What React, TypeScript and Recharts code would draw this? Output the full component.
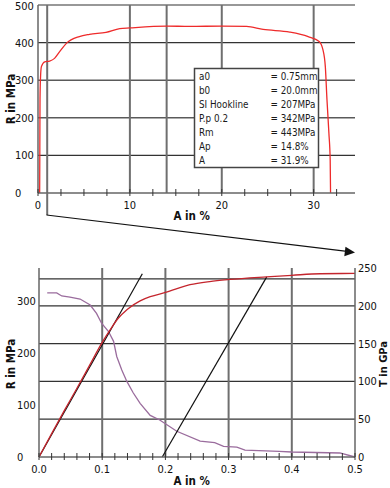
import React from 'react';
import { LineChart, Line, XAxis, YAxis, ReferenceLine } from 'recharts';

const FONT = "'Liberation Sans Narrow', 'DejaVu Sans Condensed', 'Liberation Sans', sans-serif";

// ---------- Top chart (full test) ----------
const topElongation = [0.18, 0.2, 0.22, 0.28, 0.37, 0.73, 1.27, 1.8, 2.36, 3.09, 4.5, 5.6, 7.4, 8.9, 10, 14, 16.5, 20, 22.7, 24.5, 27.4, 29.4, 30.6, 31.0, 31.27, 31.45, 31.66, 31.8, 31.84];
const topStress = [0, 120, 250, 310, 336, 349, 351, 358, 376, 398, 416, 422, 427, 437, 439, 444, 443, 444, 443, 435, 428, 416, 403, 382, 336, 248, 159, 88, 0];
const topXTicks = [0, 2.5, 5, 7.5, 10, 12.5, 15, 17.5, 20, 22.5, 25, 27.5, 30, 32.5];
const topXLabels = [0, 10, 20, 30];
const topYTicks = [0, 100, 200, 300, 400, 500];
const topVGrid = [1, 10, 14, 20, 30];
const topHGridDark = [100, 400, 500];
const topHGridGray = [200, 300];

const boxLabels = ['a0', 'b0', 'SI Hookline', 'P.p 0.2', 'Rm', 'Ap', 'A'];
const boxValues = ['= 0.75mm', '= 20.0mm', '= 207MPa', '= 342MPa', '= 443MPa', '= 14.8%', '= 31.9%'];

// ---------- Bottom chart (zoom 0 - 0.5 %) ----------
const zoomStrain = [0, 0.02, 0.04, 0.06, 0.08, 0.1, 0.113, 0.125, 0.14, 0.16, 0.176, 0.2, 0.239, 0.27, 0.302, 0.36, 0.4, 0.445, 0.5];
const zoomStress = [0, 45, 89, 132, 176, 220, 245, 266, 284, 300, 308, 316, 331, 337, 341, 346, 349, 352, 352.5];
const modulusStrain = [0.013, 0.028, 0.036, 0.049, 0.065, 0.081, 0.091, 0.099, 0.11, 0.118, 0.123, 0.131, 0.139, 0.149, 0.16, 0.176, 0.191, 0.218, 0.255, 0.278, 0.292, 0.313, 0.326, 0.38, 0.4, 0.476, 0.5];
const modulusGPa = [217, 217, 213, 211.5, 209, 201, 190, 177, 166, 153, 133, 115, 100, 85, 71, 55, 49, 34, 21, 19, 14, 13, 9, 7.4, 6.6, 5.3, 0];
const hook1Strain = [0, 0.1635];
const hook1Stress = [0, 352];
const hook2Strain = [0.195, 0.3603];
const hook2Stress = [0, 346];
const zoomXTicks = [0, 0.02, 0.04, 0.06, 0.08, 0.1, 0.12, 0.14, 0.16, 0.18, 0.2, 0.22, 0.24, 0.26, 0.28, 0.3, 0.32, 0.34, 0.36, 0.38, 0.4, 0.42, 0.44, 0.46, 0.48, 0.5];
const zoomXLabels = [0, 0.1, 0.2, 0.3, 0.4, 0.5];
const zoomLeftTicks = [0, 100, 200, 300];
const zoomRightTicks = [0, 50, 100, 150, 200, 250];
const zoomVGrid = [0.1, 0.2, 0.3, 0.4];
const zoomRightGrid = [50, 100, 150, 200];
const zoomLeftGrid = [342];

const zip = (xs: number[], ys: number[], k: string) => xs.map((a, i) => ({ a, [k]: ys[i] }));
const topData = zip(topElongation, topStress, 'r');
const redData = zip(zoomStrain, zoomStress, 'r');
const purpleData = zip(modulusStrain, modulusGPa, 't');
const hook1Data = zip(hook1Strain, hook1Stress, 'r');
const hook2Data = zip(hook2Strain, hook2Stress, 'r');

const AXIS = '#666';
const VGRID = '#6f6f6f';
const HGRID = '#333';
const HGRID_GRAY = '#5a5a5a';
const TICK_FS = 11;

const makeXTick = (labels: number[], fmt: (v: number) => string) => (props: any) => {
  const { x, y, payload } = props;
  const v = payload.value as number;
  const show = labels.some((l) => Math.abs(l - v) < 1e-9);
  return (
    <g>
      <line x1={x} x2={x} y1={y - 4} y2={y + 3} stroke="#333" strokeWidth={1} />
      {show && (
        <text x={x} y={y + 15.5} textAnchor="middle" fontSize={TICK_FS} fontFamily={FONT} fill="#111">
          {fmt(v)}
        </text>
      )}
    </g>
  );
};

const LeftTick = (props: any) => {
  const { x, y, payload } = props;
  return (
    <text x={x - 22} y={y + 4} textAnchor="start" fontSize={TICK_FS} fontFamily={FONT} fill="#111">
      {payload.value}
    </text>
  );
};

const TopLeftTick = (props: any) => {
  const { x, y, payload } = props;
  return (
    <text x={x - 23} y={Math.max(y + 4, 9.5)} textAnchor="start" fontSize={TICK_FS} fontFamily={FONT} fill="#111">
      {payload.value}
    </text>
  );
};

const RightTick = (props: any) => {
  const { x, y, payload } = props;
  return (
    <text x={x + 3} y={y + 4} textAnchor="start" fontSize={TICK_FS} fontFamily={FONT} fill="#111">
      {payload.value}
    </text>
  );
};

const TopXTick = makeXTick(topXLabels, (v) => String(v));
const ZoomXTick = makeXTick(zoomXLabels, (v) => v.toFixed(1));

export default function App() {
  return (
    <div style={{ position: 'absolute', left: 0, top: 0, width: 390, height: 488, background: '#fff', fontFamily: FONT }}>
      <div style={{ position: 'absolute', left: 0, top: 0 }}>
        <LineChart width={390} height={230} data={topData} margin={{ top: 5, right: 35, bottom: 7, left: 0 }}>
          <XAxis
            dataKey="a"
            type="number"
            domain={[0, 34.5]}
            ticks={topXTicks}
            interval={0}
            tick={TopXTick}
            tickLine={false}
            tickSize={0}
            tickMargin={0}
            height={30}
            axisLine={{ stroke: AXIS, strokeWidth: 1.5 }}
            allowDataOverflow
          />
          <YAxis
            type="number"
            domain={[0, 500]}
            ticks={topYTicks}
            interval={0}
            tick={TopLeftTick}
            tickLine={false}
            tickSize={0}
            tickMargin={0}
            width={38}
            axisLine={{ stroke: AXIS, strokeWidth: 1.5 }}
          />
          {topHGridDark.map((v) => (
            <ReferenceLine key={'h' + v} y={v} stroke={HGRID} strokeWidth={1.2} />
          ))}
          {topHGridGray.map((v) => (
            <ReferenceLine key={'hg' + v} y={v} stroke={HGRID_GRAY} strokeWidth={1.5} />
          ))}
          {topVGrid.map((v) => (
            <ReferenceLine key={'v' + v} x={v} stroke={VGRID} strokeWidth={2} />
          ))}
          <Line dataKey="r" type="monotone" stroke="#ee2b2b" strokeWidth={1.3} dot={false} isAnimationActive={false} />
        </LineChart>
      </div>

      <div style={{ position: 'absolute', left: 0, top: 230 }}>
        <LineChart width={390} height={258} margin={{ top: 38, right: 0, bottom: 1, left: 0 }}>
          <XAxis
            dataKey="a"
            type="number"
            domain={[0, 0.5]}
            ticks={zoomXTicks}
            interval={0}
            tick={ZoomXTick}
            tickLine={false}
            tickSize={0}
            tickMargin={0}
            height={30}
            axisLine={{ stroke: AXIS, strokeWidth: 1.5 }}
            allowDuplicatedCategory={false}
          />
          <YAxis
            yAxisId="left"
            type="number"
            domain={[0, 363]}
            ticks={zoomLeftTicks}
            interval={0}
            tick={LeftTick}
            tickLine={false}
            tickSize={0}
            tickMargin={0}
            width={39}
            axisLine={{ stroke: AXIS, strokeWidth: 1.5 }}
          />
          <YAxis
            yAxisId="right"
            orientation="right"
            type="number"
            domain={[0, 250]}
            ticks={zoomRightTicks}
            interval={0}
            tick={RightTick}
            tickLine={false}
            tickSize={0}
            tickMargin={0}
            width={35}
            axisLine={{ stroke: AXIS, strokeWidth: 1.5 }}
          />
          {zoomRightGrid.map((v) => (
            <ReferenceLine key={'rh' + v} yAxisId="right" y={v} stroke={HGRID} strokeWidth={1.2} />
          ))}
          {zoomLeftGrid.map((v) => (
            <ReferenceLine key={'lh' + v} yAxisId="left" y={v} stroke={HGRID} strokeWidth={1.2} />
          ))}
          {zoomVGrid.map((v) => (
            <ReferenceLine key={'zv' + v} yAxisId="left" x={v} stroke={VGRID} strokeWidth={2} />
          ))}
          <Line yAxisId="right" data={purpleData} dataKey="t" type="linear" stroke="#9a6c9d" strokeWidth={1.3} dot={false} isAnimationActive={false} />
          <Line yAxisId="left" data={hook1Data} dataKey="r" type="linear" stroke="#111" strokeWidth={1.2} dot={false} isAnimationActive={false} />
          <Line yAxisId="left" data={hook2Data} dataKey="r" type="linear" stroke="#111" strokeWidth={1.2} dot={false} isAnimationActive={false} />
          <Line yAxisId="left" data={redData} dataKey="r" type="monotone" stroke="#c4252d" strokeWidth={1.3} dot={false} isAnimationActive={false} />
        </LineChart>
      </div>

      <svg width={390} height={488} style={{ position: 'absolute', left: 0, top: 0, pointerEvents: 'none' }}>
        {/* zoom indicator */}
        <line x1={47.2} y1={193} x2={47.2} y2={215} stroke={VGRID} strokeWidth={2} />
        <line x1={46.5} y1={215} x2={347} y2={251.4} stroke="#111" strokeWidth={1.2} />
        <polygon points="355,252.4 345.5,246.8 344.3,256.2" fill="#111" />

        {/* parameter box */}
        <rect x={194.5} y={68.5} width={124} height={99} fill="#fff" stroke="#444" strokeWidth={1.5} />
        {boxLabels.map((l, i) => (
          <text key={l} x={199} y={79.5 + i * 14} fontSize={9.8} fontFamily={FONT} fill="#1a1a1a">
            {l}
          </text>
        ))}
        {boxValues.map((v, i) => (
          <text key={v} x={270.5} y={79.5 + i * 14} fontSize={9.8} fontFamily={FONT} fill="#1a1a1a">
            {v}
          </text>
        ))}

        {/* axis titles */}
        <text transform="translate(15,99) rotate(-90)" textAnchor="middle" fontSize={11.5} fontWeight="bold" fontFamily={FONT} fill="#111">
          R in MPa
        </text>
        <text x={191.7} y={220} textAnchor="middle" fontSize={11.5} fontWeight="bold" fontFamily={FONT} fill="#111">
          A in %
        </text>
        <text transform="translate(15,364) rotate(-90)" textAnchor="middle" fontSize={11.5} fontWeight="bold" fontFamily={FONT} fill="#111">
          R in MPa
        </text>
        <text transform="translate(386.5,364) rotate(-90)" textAnchor="middle" fontSize={11} fontWeight="bold" fontFamily={FONT} fill="#111">
          T in GPa
        </text>
        <text x={191.7} y={485} textAnchor="middle" fontSize={11.5} fontWeight="bold" fontFamily={FONT} fill="#111">
          A in %
        </text>
      </svg>
    </div>
  );
}
